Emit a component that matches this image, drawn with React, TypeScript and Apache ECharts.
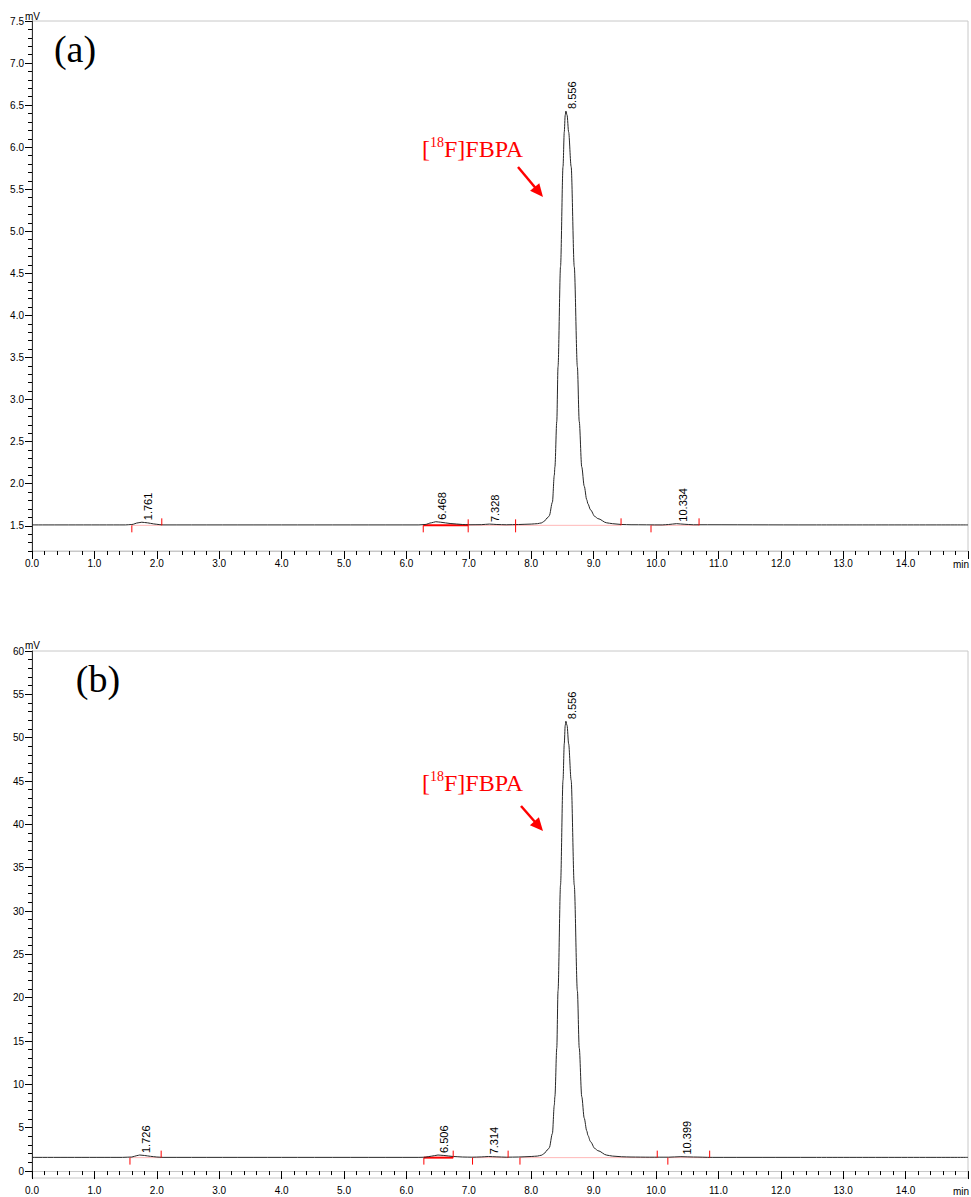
import React, { useEffect, useRef } from "react";
import * as echarts from "echarts";

// ---- Chromatogram (a) ----
const TIME_A = [0, 1.5, 1.6, 1.7, 1.76, 1.85, 1.95, 2.05, 2.1, 4.0, 6.2, 6.3, 6.4, 6.47, 6.55, 6.7, 6.9, 7.0, 7.2, 7.33, 7.45, 7.6, 7.8, 8.0, 8.1, 8.17, 8.2, 8.27, 8.29, 8.34, 8.37, 8.38, 8.41, 8.43, 8.47, 8.51, 8.53, 8.545, 8.556, 8.575, 8.6, 8.64, 8.69, 8.74, 8.77, 8.81, 8.85, 8.89, 8.91, 8.95, 9.02, 9.07, 9.21, 9.3, 9.45, 9.6, 10.1, 10.2, 10.33, 10.45, 10.6, 12.5, 15];
const SIGNAL_A = [1.51, 1.51, 1.515, 1.535, 1.542, 1.535, 1.522, 1.513, 1.51, 1.51, 1.51, 1.515, 1.535, 1.548, 1.542, 1.527, 1.515, 1.512, 1.513, 1.52, 1.515, 1.512, 1.515, 1.52, 1.525, 1.535, 1.55, 1.6, 1.62, 1.78, 2.1, 2.2, 2.74, 3.39, 4.58, 5.77, 6.18, 6.38, 6.43, 6.38, 6.18, 5.77, 4.58, 3.39, 2.74, 2.2, 1.97, 1.81, 1.76, 1.69, 1.61, 1.585, 1.535, 1.525, 1.515, 1.512, 1.51, 1.515, 1.525, 1.518, 1.512, 1.51, 1.51];
const PEAK_RT_A = [1.761, 6.468, 7.328, 8.556, 10.334];
const PEAK_H_A = [1.542, 1.548, 1.52, 6.43, 1.525];
// integration baseline segments [start, end, level, emphasised]
const SEGS_A = [[1.6, 2.08, 1.505, 0], [6.27, 6.99, 1.505, 1], [6.99, 7.75, 1.505, 0], [7.75, 9.44, 1.505, 0], [9.92, 10.69, 1.505, 0]];
// integration marks [time, level, direction: -1 start, 1 end, 0 both]
const MARKS_A = [[1.6, 1.505, -1], [2.08, 1.505, 1], [6.27, 1.505, -1], [6.99, 1.505, 0], [7.75, 1.505, 0], [9.44, 1.505, 1], [9.92, 1.505, -1], [10.69, 1.505, 1]];
const Y_TICKS_A = [1.5, 2.0, 2.5, 3.0, 3.5, 4.0, 4.5, 5.0, 5.5, 6.0, 6.5, 7.0, 7.5];

// ---- Chromatogram (b) ----
const TIME_B = [0, 1.45, 1.6, 1.68, 1.726, 1.8, 1.9, 2.0, 2.1, 4.0, 6.2, 6.3, 6.4, 6.506, 6.6, 6.75, 6.9, 7.05, 7.2, 7.314, 7.45, 7.6, 7.8, 8.0, 8.1, 8.17, 8.2, 8.27, 8.29, 8.34, 8.37, 8.38, 8.41, 8.43, 8.47, 8.51, 8.53, 8.545, 8.556, 8.575, 8.6, 8.64, 8.69, 8.74, 8.77, 8.81, 8.85, 8.89, 8.91, 8.95, 9.02, 9.07, 9.21, 9.3, 9.45, 9.6, 9.9, 10.2, 10.399, 10.6, 10.9, 12.5, 15];
const SIGNAL_B = [1.58, 1.58, 1.62, 1.78, 1.85, 1.8, 1.7, 1.62, 1.58, 1.58, 1.58, 1.6, 1.72, 1.85, 1.8, 1.68, 1.62, 1.6, 1.63, 1.68, 1.64, 1.6, 1.62, 1.68, 1.73, 1.84, 1.99, 2.5, 2.7, 4.34, 7.6, 8.6, 14.2, 20.8, 33.0, 45.1, 49.3, 51.4, 51.9, 51.4, 49.3, 45.1, 33.0, 20.8, 14.2, 8.6, 6.1, 4.65, 4.1, 3.4, 2.6, 2.35, 1.84, 1.73, 1.65, 1.62, 1.6, 1.6, 1.66, 1.62, 1.58, 1.58, 1.58];
const PEAK_RT_B = [1.726, 6.506, 7.314, 8.556, 10.399];
const PEAK_H_B = [1.85, 1.85, 1.7, 51.9, 1.68];
const SEGS_B = [[1.57, 2.07, 1.55, 0], [6.28, 6.75, 1.55, 1], [7.06, 7.63, 1.55, 0], [7.82, 10.02, 1.55, 0], [10.19, 10.86, 1.55, 0]];
const MARKS_B = [[1.57, 1.55, -1], [2.07, 1.55, 1], [6.28, 1.55, -1], [6.75, 1.55, 1], [7.06, 1.55, -1], [7.63, 1.55, 1], [7.82, 1.55, -1], [10.02, 1.55, 1], [10.19, 1.55, -1], [10.86, 1.55, 1]];
const Y_TICKS_B = [0, 5, 10, 15, 20, 25, 30, 35, 40, 45, 50, 55, 60];

const X_MIN = 0;
const X_MAX = 15;

function minorValues(majors: number[], lo: number, hi: number, step: number) {
  const out: number[] = [];
  const n = Math.round((hi - lo) / step);
  for (let i = 0; i <= n; i++) {
    const v = Math.round((lo + i * step) * 1000) / 1000;
    if (!majors.some((m) => Math.abs(m - v) < 1e-6)) out.push(v);
  }
  return out;
}

const SANS = "Liberation Sans";
const SERIF = "Liberation Serif";

export default function App() {
  const ref = useRef<HTMLDivElement>(null);

  useEffect(() => {
    document.body.style.margin = "0";
    if (!ref.current) return;
    const chart = echarts.init(ref.current, undefined, { renderer: "svg" });

    const grids = [
      { left: 32, top: 21, width: 937, height: 530 },
      { left: 32, top: 651, width: 937, height: 527 },
    ];

    const yCfg = [
      { min: 1.2, max: 7.5, majors: Y_TICKS_A, step: 0.1, dec: 1 },
      { min: -0.8, max: 60, majors: Y_TICKS_B, step: 1, dec: 0 },
    ];

    const xAxis = [0, 1].map((g) => ({
      type: "value",
      gridIndex: g,
      min: X_MIN,
      max: X_MAX,
      interval: 1,
      axisLine: { show: true, lineStyle: { color: "#c8c8c8", width: 1 } },
      axisTick: { show: true, length: 8, lineStyle: { color: "#000" } },
      minorTick: { show: true, splitNumber: 5, length: 4, lineStyle: { color: "#000" } },
      splitLine: { show: false },
      axisLabel: {
        margin: 7,
        fontFamily: SANS,
        fontSize: 10,
        color: "#000",
        formatter: (v: number) => (v >= X_MAX ? "" : v.toFixed(1)),
      },
    }));

    const yAxis: any[] = [];
    [0, 1].forEach((g) => {
      const c = yCfg[g];
      yAxis.push({
        type: "value",
        gridIndex: g,
        min: c.min,
        max: c.max,
        position: "left",
        axisLine: { show: true, lineStyle: { color: "#333", width: 1 } },
        axisTick: { show: true, length: 7, customValues: c.majors, lineStyle: { color: "#000" } },
        splitLine: { show: false },
        axisLabel: {
          customValues: c.majors,
          margin: 8,
          fontFamily: SANS,
          fontSize: 10,
          color: "#000",
          formatter: (v: number) => v.toFixed(c.dec),
        },
      });
      yAxis.push({
        type: "value",
        gridIndex: g,
        min: c.min,
        max: c.max,
        position: "left",
        axisLine: { show: false },
        axisTick: {
          show: true,
          length: 4,
          customValues: minorValues(c.majors, Math.ceil(c.min / c.step) * c.step, c.max, c.step),
          lineStyle: { color: "#000" },
        },
        splitLine: { show: false },
        axisLabel: { show: false },
      });
    });

    const segRender = (params: any, api: any) => {
      const a = api.coord([api.value(0), api.value(2)]);
      const b = api.coord([api.value(1), api.value(2)]);
      const strong = api.value(3) === 1;
      return {
        type: "line",
        shape: { x1: a[0], y1: a[1], x2: b[0], y2: b[1] },
        style: { stroke: strong ? "#ff0000" : "#ffb8b8", lineWidth: strong ? 2 : 1 },
      };
    };
    const markRender = (params: any, api: any) => {
      const p = api.coord([api.value(0), api.value(1)]);
      const d = api.value(2);
      const y1 = d > 0 ? p[1] - 7 : d < 0 ? p[1] : p[1] - 6;
      const y2 = d > 0 ? p[1] : p[1] + 7;
      return {
        type: "line",
        shape: { x1: p[0], y1, x2: p[0], y2 },
        style: { stroke: "#ff0000", lineWidth: 1 },
      };
    };
    const labelRender = (params: any, api: any) => {
      const t = api.value(0);
      const p = api.coord([t, api.value(1)]);
      return {
        type: "text",
        x: p[0] + 6,
        y: p[1] - 2,
        rotation: Math.PI / 2,
        style: {
          text: t.toFixed(3),
          x: 0,
          y: 0,
          align: "left",
          verticalAlign: "middle",
          fill: "#000",
          font: `11px "${SANS}"`,
        },
      };
    };

    const sets = [
      { time: TIME_A, sig: SIGNAL_A, rt: PEAK_RT_A, h: PEAK_H_A, segs: SEGS_A, marks: MARKS_A },
      { time: TIME_B, sig: SIGNAL_B, rt: PEAK_RT_B, h: PEAK_H_B, segs: SEGS_B, marks: MARKS_B },
    ];

    const series: any[] = [];
    sets.forEach((s, g) => {
      series.push({
        type: "custom",
        xAxisIndex: g,
        yAxisIndex: g * 2,
        renderItem: segRender,
        encode: { x: [0, 1], y: 2 },
        data: s.segs,
        z: 2,
        silent: true,
      });
      series.push({
        type: "line",
        xAxisIndex: g,
        yAxisIndex: g * 2,
        data: s.time.map((t, i) => [t, s.sig[i]]),
        showSymbol: false,
        symbol: "none",
        smooth: 0.3,
        smoothMonotone: "x",
        lineStyle: { color: "#262626", width: 1 },
        z: 3,
        silent: true,
      });
      series.push({
        type: "custom",
        xAxisIndex: g,
        yAxisIndex: g * 2,
        renderItem: markRender,
        encode: { x: 0, y: 1 },
        data: s.marks,
        z: 4,
        silent: true,
      });
      series.push({
        type: "custom",
        xAxisIndex: g,
        yAxisIndex: g * 2,
        renderItem: labelRender,
        encode: { x: 0, y: 1 },
        data: s.rt.map((t, i) => [t, s.h[i]]),
        z: 5,
        silent: true,
        clip: false,
      });
    });

    const arrow = (x0: number, y0: number, tx: number, ty: number) => {
      const dx = tx - x0;
      const dy = ty - y0;
      const len = Math.sqrt(dx * dx + dy * dy);
      const ux = dx / len;
      const uy = dy / len;
      const bx = tx - 13 * ux;
      const by = ty - 13 * uy;
      const px = -uy;
      const py = ux;
      return [
        {
          type: "line",
          shape: { x1: x0, y1: y0, x2: bx + 2 * ux, y2: by + 2 * uy },
          style: { stroke: "#ff0000", lineWidth: 2.5 },
        },
        {
          type: "polygon",
          shape: {
            points: [
              [tx, ty],
              [bx + 6 * px, by + 6 * py],
              [bx - 6 * px, by - 6 * py],
            ],
          },
          style: { fill: "#ff0000" },
        },
      ];
    };

    const annot = (capY: number) => [
      { type: "text", x: 422, y: capY, style: { text: "[", font: `24px "${SERIF}"`, fill: "#ff0000", align: "left", verticalAlign: "middle" } },
      { type: "text", x: 430, y: capY - 7, style: { text: "18", font: `14px "${SERIF}"`, fill: "#ff0000", align: "left", verticalAlign: "middle" } },
      { type: "text", x: 444, y: capY, style: { text: "F]FBPA", font: `24px "${SERIF}"`, fill: "#ff0000", align: "left", verticalAlign: "middle" } },
    ];

    const graphic: any[] = [
      { type: "text", x: 75, y: 49, style: { text: "(a)", font: `38px "${SERIF}"`, fill: "#000", align: "center", verticalAlign: "middle" } },
      { type: "text", x: 98, y: 679, style: { text: "(b)", font: `38px "${SERIF}"`, fill: "#000", align: "center", verticalAlign: "middle" } },
      { type: "text", x: 25, y: 16, style: { text: "mV", font: `10px "${SANS}"`, fill: "#000", align: "left", verticalAlign: "middle" } },
      { type: "text", x: 25, y: 645, style: { text: "mV", font: `10px "${SANS}"`, fill: "#000", align: "left", verticalAlign: "middle" } },
      { type: "text", x: 969, y: 564, style: { text: "min", font: `10px "${SANS}"`, fill: "#000", align: "right", verticalAlign: "middle" } },
      { type: "text", x: 969, y: 1191, style: { text: "min", font: `10px "${SANS}"`, fill: "#000", align: "right", verticalAlign: "middle" } },
      ...annot(149),
      ...annot(783),
      ...arrow(518, 167, 543, 197),
      ...arrow(521, 806, 543, 831),
    ];

    chart.setOption({
      animation: false,
      backgroundColor: "#fff",
      grid: grids.map((g) => ({ ...g, show: true, borderColor: "#c8c8c8", borderWidth: 1, backgroundColor: "transparent", containLabel: false })),
      xAxis,
      yAxis,
      series,
      graphic,
    });

    return () => chart.dispose();
  }, []);

  return <div ref={ref} style={{ width: 971, height: 1197 }} />;
}
